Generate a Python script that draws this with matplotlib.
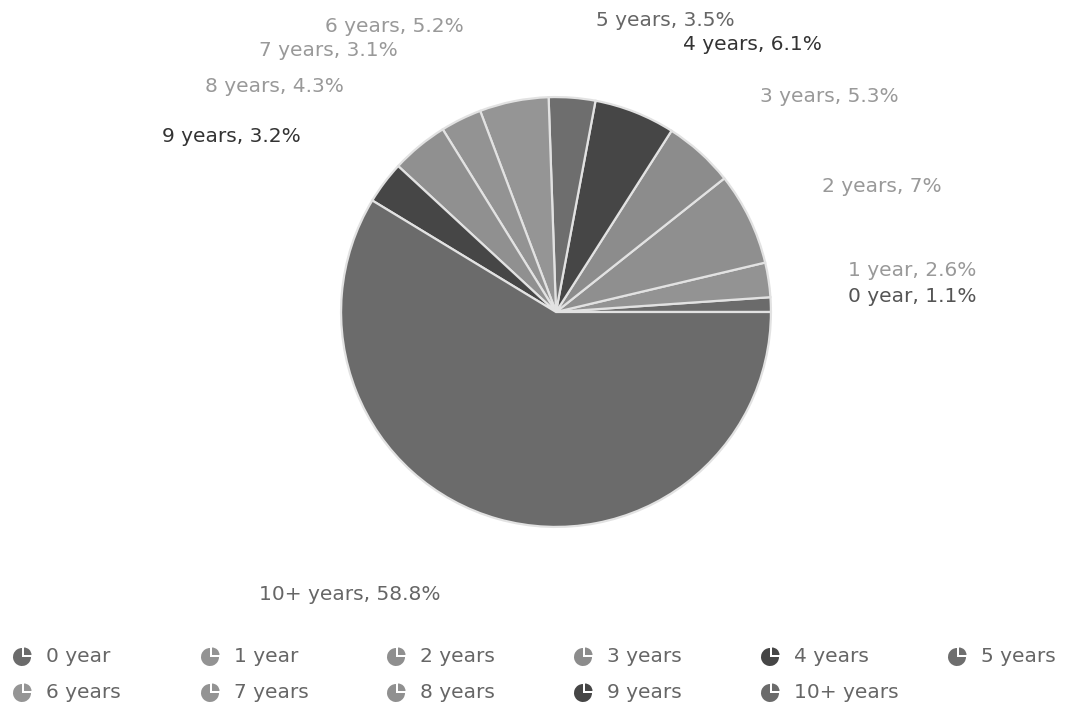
import numpy as np
import matplotlib
matplotlib.use("Agg")
import matplotlib.pyplot as plt
from matplotlib.patches import Wedge

# data
categories = ["0 year", "1 year", "2 years", "3 years", "4 years", "5 years",
              "6 years", "7 years", "8 years", "9 years", "10+ years"]
shares = [1.1, 2.6, 7, 5.3, 6.1, 3.5, 5.2, 3.1, 4.3, 3.2, 58.8]
pct_labels = ["1.1%", "2.6%", "7%", "5.3%", "6.1%", "3.5%", "5.2%", "3.1%",
              "4.3%", "3.2%", "58.8%"]

slice_colors = ["#6b6b6b", "#939393", "#8f8f8f", "#8c8c8c", "#464646", "#6e6e6e",
                "#959595", "#939393", "#909090", "#464646", "#6b6b6b"]
text_colors = ["#555555", "#999999", "#999999", "#999999", "#333333", "#666666",
               "#999999", "#999999", "#999999", "#333333", "#666666"]

# label anchors (pixels, left edge / vertical centre)
label_pos = [(848, 297), (848, 270), (822, 186), (760, 97), (683, 44), (596, 20),
             (325, 26), (259, 50), (205, 86), (162, 136), (259, 595)]

W, H = 1065, 706
fig = plt.figure(figsize=(W / 100, H / 100), dpi=100)

cx, cy, r = 556, 312, 216
ax = fig.add_axes([(cx - r) / W, 1 - (cy + r) / H, 2 * r / W, 2 * r / H])
ax.pie(shares, colors=slice_colors, startangle=0, counterclock=True, radius=1,
       wedgeprops=dict(edgecolor="#e2e2e2", linewidth=1.6))
ax.set_xlim(-1.005, 1.005)
ax.set_ylim(-1.005, 1.005)
ax.axis("off")

ov = fig.add_axes([0, 0, 1, 1], zorder=5)
ov.set_xlim(0, W)
ov.set_ylim(H, 0)
ov.axis("off")

fs = 14.5
for i, cat in enumerate(categories):
    x, y = label_pos[i]
    ov.text(x, y, f"{cat}, {pct_labels[i]}", color=text_colors[i], fontsize=fs,
            ha="left", va="center", family="DejaVu Sans")

# legend, row-major, 6 columns
col_x = [22, 210, 396, 583, 770, 957]
row_y = [657, 693]
for i, cat in enumerate(categories):
    x = col_x[i % 6]
    y = row_y[i // 6]
    ov.add_patch(Wedge((x, y), 9, 0, 270, facecolor=slice_colors[i], edgecolor="none"))
    ov.add_patch(Wedge((x + 2, y - 2), 7.5, 270, 360, facecolor=slice_colors[i],
                       edgecolor="none"))
    ov.text(x + 24, y, cat, color="#666666", fontsize=fs, ha="left", va="center",
            family="DejaVu Sans")

fig.savefig("out.png", dpi=100)
